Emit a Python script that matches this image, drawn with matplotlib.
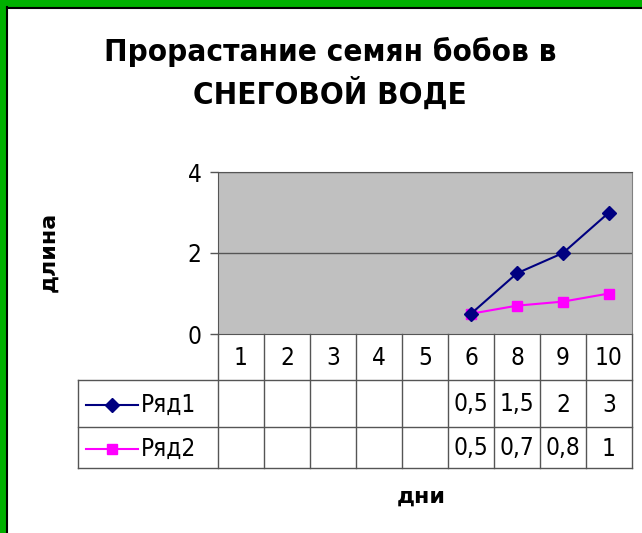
import matplotlib
matplotlib.use("Agg")
import matplotlib.pyplot as plt
import matplotlib.transforms as mtransforms
from matplotlib.patches import Rectangle
import numpy as np

plt.rcParams['font.family'] = ['DejaVu Sans']

# data
days = ["1", "2", "3", "4", "5", "6", "8", "9", "10"]
row1 = [None, None, None, None, None, 0.5, 1.5, 2, 3]
row2 = [None, None, None, None, None, 0.5, 0.7, 0.8, 1]
series_names = ["Ряд1", "Ряд2"]
title = "Прорастание семян бобов в\nСНЕГОВОЙ ВОДЕ"
y_ticks = [0, 2, 4]

W, H = 642, 533
fig = plt.figure(figsize=(W / 100, H / 100), dpi=100)
fig.patch.set_facecolor("white")


def fx(x):
    return x / W


def fy(y):
    return 1 - y / H


# green frame on left and top, black inner line
fig.patches.append(Rectangle((0, 0), fx(6), 1, transform=fig.transFigure, color="#00b000", zorder=0))
fig.patches.append(Rectangle((0, fy(7)), 1, 7 / H, transform=fig.transFigure, color="#00b000", zorder=0))
fig.add_artist(plt.Line2D([fx(6.5), fx(6.5)], [0, fy(7)], transform=fig.transFigure, color="black", lw=1.5))
fig.add_artist(plt.Line2D([fx(6.5), 1], [fy(7.5), fy(7.5)], transform=fig.transFigure, color="black", lw=1.5))

plot_l, plot_r, plot_t, plot_b = 218, 632, 172, 334
ax = fig.add_axes([fx(plot_l), fy(plot_b), fx(plot_r - plot_l), (plot_b - plot_t) / H])
ax.set_facecolor("#c0c0c0")
ax.set_xlim(-0.5, len(days) - 0.5)
ax.set_ylim(0, 4)
ax.set_yticks(y_ticks)
ax.set_yticklabels([str(v) for v in y_ticks], fontsize=17.5, fontstretch="condensed")
ax.tick_params(axis="y", length=6, width=1, color="#555555", pad=6)
ax.set_xticks([])
for v in y_ticks[1:]:
    ax.axhline(v, color="#555555", lw=1, zorder=1)
ax.spines["left"].set_color("#555555")
ax.spines["bottom"].set_color("#555555")
ax.spines["right"].set_color("#808080")
ax.spines["top"].set_color("#555555")

x = np.arange(len(days))
y1 = np.array([np.nan if v is None else v for v in row1])
y2 = np.array([np.nan if v is None else v for v in row2])
ax.plot(x, y1, color="#000080", lw=1.5, marker="D", markersize=7, zorder=3)
ax.plot(x, y2, color="#ff00ff", lw=1.5, marker="s", markersize=7, zorder=2)

# data table below the plot
trans = mtransforms.blended_transform_factory(ax.transData, fig.transFigure)
row_edges = [334, 380, 427, 468]
tab_l = 78
line_kw = dict(color="#555555", lw=1)

# vertical lines between categories
for i in range(len(days) + 1):
    xe = i - 0.5
    fig.add_artist(plt.Line2D([xe, xe], [fy(row_edges[0]), fy(row_edges[-1])], transform=trans, **line_kw))
# horizontal lines
for ye in row_edges[1:]:
    fig.add_artist(plt.Line2D([fx(tab_l), fx(plot_r)], [fy(ye), fy(ye)], transform=fig.transFigure, **line_kw))
fig.add_artist(plt.Line2D([fx(tab_l), fx(tab_l)], [fy(row_edges[1]), fy(row_edges[-1])], transform=fig.transFigure, **line_kw))

txt_kw = dict(fontsize=17.5, fontstretch="condensed", ha="center", va="center", transform=trans)
for i, d in enumerate(days):
    fig.text(i, fy((row_edges[0] + row_edges[1]) / 2 + 1), d, **txt_kw)

series = [(row1, "#000080", "D", 7), (row2, "#ff00ff", "s", 7)]
for r, (vals, col, mk, ms) in enumerate(series):
    yc = fy((row_edges[r + 1] + row_edges[r + 2]) / 2 + 1)
    for i, v in enumerate(vals):
        if v is not None:
            fig.text(i, yc, ("%g" % v).replace(".", ","), **txt_kw)
    fig.add_artist(plt.Line2D([fx(86), fx(138)], [yc, yc], transform=fig.transFigure, color=col, lw=1.5))
    fig.add_artist(plt.Line2D([fx(112)], [yc], transform=fig.transFigure, color=col, marker=mk, markersize=ms))
    fig.text(fx(141), yc, series_names[r], fontsize=17.5, fontstretch="condensed", ha="left", va="center")

fig.text(fx(330), fy(73), title, fontsize=22.5, fontweight="heavy", fontstretch="condensed",
         ha="center", va="center", linespacing=1.35)
fig.text(fx(48), fy(252), "длина", fontsize=16, fontweight="heavy", rotation=90, ha="center", va="center")
fig.text(fx(421), fy(497), "дни", fontsize=16, fontweight="heavy", ha="center", va="center")

fig.savefig("out.png", dpi=100, facecolor=fig.get_facecolor())
